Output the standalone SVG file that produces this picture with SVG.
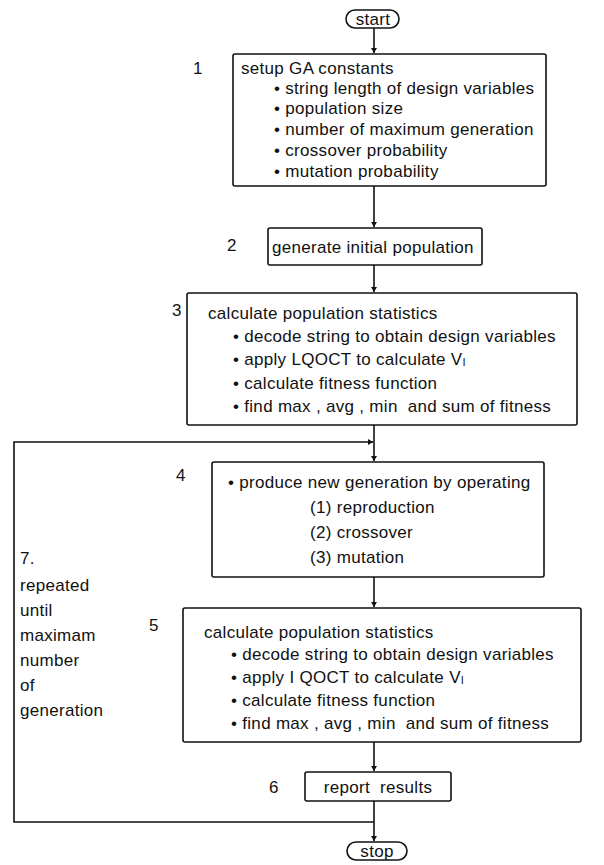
<svg xmlns="http://www.w3.org/2000/svg" width="604" height="865" viewBox="0 0 604 865">
<defs>
<style>
text{font-family:"Liberation Sans",Arial,sans-serif;font-size:17px;letter-spacing:0.3px;fill:#111;white-space:pre}
.box{fill:#fff;stroke:#111;stroke-width:1.6}
.ln{fill:none;stroke:#111;stroke-width:1.6}
</style>
<marker id="ah" markerWidth="6" markerHeight="8" refX="5" refY="4" orient="auto" markerUnits="userSpaceOnUse"><path d="M0,1 L5,4 L0,7 Z" fill="#111"/></marker>
</defs>
<rect width="604" height="865" fill="#fff"/>
<g id="connectors">
<line class="ln" x1="374" y1="28" x2="374" y2="53" marker-end="url(#ah)"/>
<line class="ln" x1="374" y1="186" x2="374" y2="227" marker-end="url(#ah)"/>
<line class="ln" x1="374" y1="265" x2="374" y2="292" marker-end="url(#ah)"/>
<line class="ln" x1="374" y1="425" x2="374" y2="461" marker-end="url(#ah)"/>
<polyline class="ln" points="374,822 14,822 14,442 373,442" marker-end="url(#ah)"/>
<line class="ln" x1="374" y1="577" x2="374" y2="607" marker-end="url(#ah)"/>
<line class="ln" x1="374" y1="742" x2="374" y2="771" marker-end="url(#ah)"/>
<line class="ln" x1="374" y1="801" x2="374" y2="841" marker-end="url(#ah)"/>
</g>
<g id="start">
<rect class="box" x="346" y="10" width="53" height="18" rx="9"/>
<text x="373" y="25" text-anchor="middle">start</text>
</g>
<g id="n1">
<rect class="box" x="233" y="54" width="313" height="132" rx="2"/>
<text x="193" y="74">1</text>
<text x="241" y="74">setup GA constants</text>
<text x="274" y="94">• string length of design variables</text>
<text x="274" y="114">• population size</text>
<text x="274" y="135">• number of maximum generation</text>
<text x="274" y="156">• crossover probability</text>
<text x="274" y="177">• mutation probability</text>
</g>
<g id="n2">
<rect class="box" x="268" y="228" width="214" height="37" rx="2"/>
<text x="227" y="251">2</text>
<text x="272" y="253">generate initial population</text>
</g>
<g id="n3">
<rect class="box" x="187" y="293" width="390" height="132" rx="2"/>
<text x="172" y="316">3</text>
<text x="208" y="319">calculate population statistics</text>
<text x="233" y="342">• decode string to obtain design variables</text>
<text x="233" y="365">• apply LQOCT to calculate V<tspan font-size="11" dy="1">I</tspan></text>
<text x="233" y="389">• calculate fitness function</text>
<text x="233" y="412">• find max , avg , min  and sum of fitness</text>
</g>
<g id="n4">
<rect class="box" x="212" y="462" width="332" height="115" rx="2"/>
<text x="176" y="481">4</text>
<text x="228" y="488">• produce new generation by operating</text>
<text x="310" y="513">(1) reproduction</text>
<text x="310" y="538">(2) crossover</text>
<text x="310" y="563">(3) mutation</text>
</g>
<g id="n5">
<rect class="box" x="183" y="608" width="398" height="134" rx="2"/>
<text x="149" y="631">5</text>
<text x="204" y="638">calculate population statistics</text>
<text x="231" y="660">• decode string to obtain design variables</text>
<text x="231" y="683">• apply I QOCT to calculate V<tspan font-size="11" dy="1">I</tspan></text>
<text x="231" y="706">• calculate fitness function</text>
<text x="231" y="729">• find max , avg , min  and sum of fitness</text>
</g>
<g id="n6">
<rect class="box" x="305" y="772" width="146" height="29" rx="2"/>
<text x="269" y="793">6</text>
<text x="378" y="793" text-anchor="middle">report  results</text>
</g>
<g id="n7">
<text x="20" y="564">7.</text>
<text x="20" y="591">repeated</text>
<text x="20" y="616">until</text>
<text x="20" y="641">maximam</text>
<text x="20" y="666">number</text>
<text x="20" y="691">of</text>
<text x="20" y="716">generation</text>
</g>
<g id="stop">
<rect class="box" x="347" y="842" width="60" height="18" rx="9"/>
<text x="377" y="857" text-anchor="middle">stop</text>
</g>
</svg>
